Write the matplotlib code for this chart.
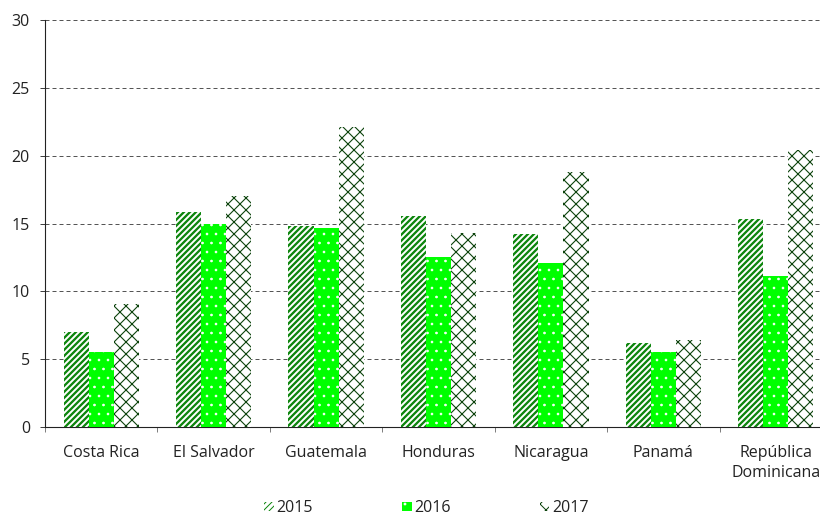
import matplotlib
matplotlib.use("Agg")
import matplotlib.pyplot as plt
import matplotlib.hatch as mhatch
import numpy as np

categories = ["Costa Rica", "El Salvador", "Guatemala", "Honduras", "Nicaragua",
              "Panamá", "República\nDominicana"]
years = ["2015", "2016", "2017"]
v2015 = [7.0, 15.85, 14.8, 15.55, 14.2, 6.2, 15.3]
v2016 = [5.5, 15.0, 14.7, 12.55, 12.1, 5.5, 11.1]
v2017 = [9.1, 17.0, 22.1, 14.3, 18.8, 6.4, 20.4]
yticks = [0, 5, 10, 15, 20, 25, 30]

# slightly finer dot pattern than matplotlib's default '.' hatch
try:
    class _Dots(mhatch.SmallFilledCircles):
        size = 0.1
        filled = True

        def __init__(self, hatch, density):
            self.num_rows = hatch.count('.') * 8  # must be even
            mhatch.Circles.__init__(self, hatch, density)

    _i = mhatch._hatch_types.index(mhatch.SmallFilledCircles)
    mhatch._hatch_types[_i] = _Dots
except Exception:
    pass

DPI = 72
plt.rcParams['font.family'] = ['Open Sans', 'DejaVu Sans']

fig = plt.figure(figsize=(820 / DPI, 515 / DPI), dpi=DPI)
ax = fig.add_axes([45 / 820, 88 / 515, 787 / 820, 407 / 515])

x = np.arange(len(categories))
w = 0.223
styles = [
    dict(facecolor="white", edgecolor="#0d850d", hatch="////", lw=2.3),
    dict(facecolor="#00ff00", edgecolor="white", hatch=".", lw=0.8),
    dict(facecolor="white", edgecolor="#0c430c", hatch="xx", lw=1.1),
]
series = [v2015, v2016, v2017]
handles = []
for i, (vals, st) in enumerate(zip(series, styles)):
    with plt.rc_context({'hatch.linewidth': st["lw"]}):
        bars = ax.bar(x + (i - 1) * w, vals, width=w, facecolor=st["facecolor"],
                      edgecolor=st["edgecolor"], hatch=st["hatch"], linewidth=0,
                      label=years[i], zorder=3)
    for p in bars:
        try:
            p.set_hatch_linewidth(st["lw"])
        except Exception:
            pass
    handles.append(bars)

ax.set_xlim(-0.5, len(categories) - 0.5)
ax.set_ylim(0, 30)
ax.set_yticks(yticks)
ax.set_yticklabels([str(t) for t in yticks])
ax.set_xticks(x)
ax.set_xticklabels(categories)
for t in ax.get_xticklabels():
    t.set_linespacing(1.35)
ax.set_xticks(np.arange(len(categories) + 1) - 0.5, minor=True)
ax.tick_params(axis='x', which='major', length=0, pad=18, labelsize=16, colors='#222222')
ax.tick_params(axis='x', which='minor', length=5, width=1, color='#808080', direction='out')
ax.tick_params(axis='y', length=5, width=1, color='#404040', pad=10, labelsize=16,
               labelcolor='#222222')

for yv in yticks[1:]:
    ax.axhline(yv, color='#555555', lw=1.0, ls=(0, (4, 3)), zorder=1)

for s in ['top', 'right']:
    ax.spines[s].set_visible(False)
ax.spines['left'].set_color('#222222')
ax.spines['bottom'].set_color('#222222')
ax.spines['left'].set_linewidth(1.1)
ax.spines['bottom'].set_linewidth(1.1)

leg = fig.legend(handles=handles, labels=years, loc='center', ncol=3,
                 bbox_to_anchor=(426 / 820, 1 - 508.5 / 515),
                 frameon=False, handlelength=0.62, handleheight=0.5, handletextpad=0.15,
                 columnspacing=5.57, fontsize=16, borderpad=0)
for t in leg.get_texts():
    t.set_color('#222222')

fig.savefig("out.png", dpi=DPI)
